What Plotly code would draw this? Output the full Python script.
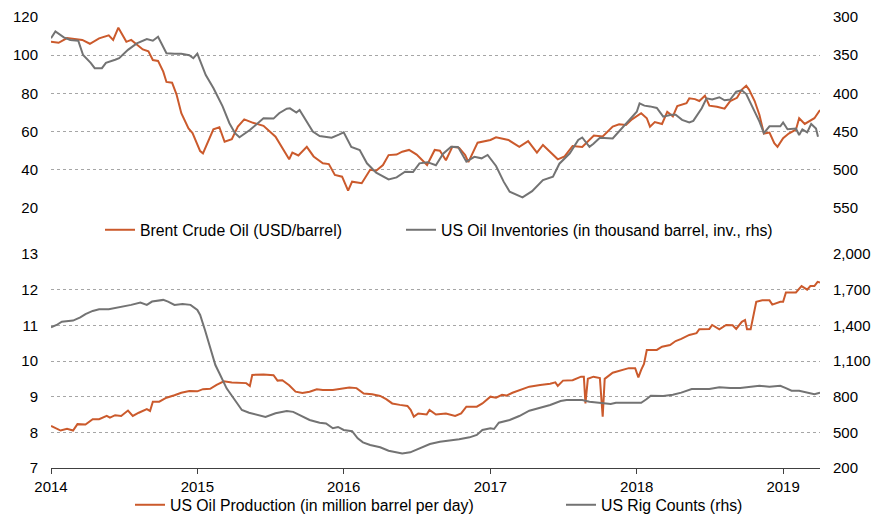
import plotly.graph_objects as go

# ---------------- data ----------------
brent_dates = ['2014-01-01','2014-01-20','2014-02-10','2014-03-01','2014-03-20','2014-04-08','2014-05-01','2014-05-25','2014-06-05','2014-06-18',
'2014-07-08','2014-07-20','2014-08-03','2014-08-18','2014-09-01','2014-09-12','2014-09-25','2014-10-08','2014-10-16','2014-10-30',
'2014-11-10','2014-11-22','2014-12-10','2014-12-20','2015-01-08','2015-01-15','2015-02-10','2015-02-25','2015-03-10','2015-03-28',
'2015-04-12','2015-04-28','2015-05-20','2015-06-15','2015-07-15','2015-08-08','2015-08-18','2015-08-26','2015-09-10','2015-10-01',
'2015-10-18','2015-11-10','2015-11-25','2015-12-10','2015-12-28','2016-01-12','2016-01-22','2016-02-15','2016-03-07','2016-03-22',
'2016-04-08','2016-04-22','2016-05-12','2016-05-26','2016-06-12','2016-07-01','2016-07-15','2016-07-27','2016-08-15','2016-08-28',
'2016-09-12','2016-09-28','2016-10-15','2016-10-30','2016-11-07','2016-11-30','2017-01-01','2017-01-15','2017-02-15','2017-03-14',
'2017-04-05','2017-04-27','2017-05-12','2017-06-06','2017-06-18','2017-07-05','2017-07-25','2017-08-18','2017-09-05','2017-09-16',
'2017-10-08','2017-11-02','2017-11-18','2017-12-05','2017-12-20','2018-01-12','2018-01-26','2018-02-03','2018-02-15','2018-03-05',
'2018-03-18','2018-04-01','2018-04-12','2018-05-05','2018-05-12','2018-05-26','2018-06-06','2018-06-20','2018-07-01','2018-07-20',
'2018-08-08','2018-08-22','2018-09-08','2018-09-20','2018-10-01','2018-10-08','2018-10-22','2018-11-03','2018-11-14','2018-11-28',
'2018-12-10','2018-12-18','2019-01-01','2019-01-15','2019-02-02','2019-02-10','2019-02-24','2019-03-08','2019-03-20','2019-04-03']
brent_values = [107,106.5,109,108.5,108,106,108.8,110.4,108,114.4,
107,108,105.7,103,102,97.5,97,91.4,86,85.6,
79.5,69.6,61.7,59.2,49.8,48.6,61.2,62.3,54.7,56,
62.6,66.4,64.6,63,57.3,48.6,45.5,49,47.5,52,
47,43.4,43,37.3,36.4,29.1,33.8,33,40,39.5,
42.5,47.7,48,49.5,50.4,48,44.8,42.5,50.4,50,
45,52,51.5,47.7,44,54.2,55.6,57,55.6,52,
55,49,53,47.7,45.5,47,52.5,52,55.6,57.9,
57.5,62.6,63.8,63.5,66.4,69.6,67,62.6,65,64,
70.4,68,73.4,74.9,77.4,77,76,78.8,73.6,73,
72,76,77.7,82,84,82,76,68.7,59,59.5,
53.9,52,56.5,59,61,67,64,65.5,67,71.3]

inv_dates = ['2014-01-01','2014-01-12','2014-02-02','2014-02-18','2014-03-10','2014-03-22','2014-04-10','2014-04-20','2014-05-08','2014-05-18',
'2014-06-10','2014-06-20','2014-07-12','2014-08-03','2014-08-28','2014-09-12','2014-09-25','2014-10-16','2014-11-05','2014-11-22',
'2014-12-12','2014-12-22','2015-01-01','2015-01-22','2015-02-10','2015-03-05','2015-03-22','2015-04-05','2015-04-16','2015-05-12',
'2015-06-15','2015-07-10','2015-07-24','2015-08-12','2015-08-20','2015-09-05','2015-09-13','2015-09-28','2015-10-16','2015-11-02',
'2015-12-02','2015-12-20','2016-01-01','2016-01-20','2016-02-10','2016-02-28','2016-03-22','2016-04-22','2016-05-12','2016-06-02',
'2016-06-22','2016-07-08','2016-07-28','2016-08-18','2016-09-05','2016-09-25','2016-10-12','2016-11-02','2016-11-22','2016-12-10',
'2016-12-25','2017-01-15','2017-02-03','2017-02-18','2017-03-22','2017-04-15','2017-05-12','2017-06-06','2017-06-22','2017-07-18',
'2017-08-08','2017-08-18','2017-09-05','2017-09-15','2017-10-01','2017-11-02','2017-11-25','2017-12-15','2018-01-01','2018-01-08',
'2018-01-20','2018-02-03','2018-02-20','2018-03-08','2018-03-28','2018-04-08','2018-04-24','2018-05-12','2018-05-22','2018-06-12',
'2018-06-24','2018-07-08','2018-07-26','2018-08-08','2018-08-22','2018-09-06','2018-09-20','2018-10-01','2018-10-16','2018-11-03',
'2018-11-14','2018-11-28','2018-12-25','2019-01-01','2019-01-12','2019-02-02','2019-02-10','2019-02-18','2019-03-02','2019-03-12',
'2019-03-24','2019-03-29']
inv_values = [327.9,319,326.6,330,331,349.7,360,367,367,360,
356,354,343,334.5,328.8,331,325.8,347.5,348,348,
350,354,348,376,393,417,439,452,457.5,448,
432.6,433,426,420,419.5,425,421.7,434.8,450,455.8,
458,454,451,470,474,491.5,503.8,512.5,510,502.5,
503,491.5,490,494,479,469.7,470,489.4,483,485,
480.6,495,515.5,528.7,536,528,513.4,509,492,478.4,
461,457.7,470,466,458,459,445.7,434.7,424,413,
416,417,419,430.5,428,428,434.6,438,436,419.5,
406.4,408,405,409,408,397.8,396,400.8,417.4,437,
452,443,443,438,447,446,454.5,447,451,440,
446,456.7]

prod_dates = ['2014-01-01','2014-01-25','2014-02-10','2014-02-25','2014-03-08','2014-03-28','2014-04-15','2014-05-01','2014-05-20','2014-05-28',
'2014-06-10','2014-06-25','2014-07-12','2014-07-24','2014-08-08','2014-08-28','2014-09-05','2014-09-12','2014-09-28','2014-10-16',
'2014-11-05','2014-11-22','2014-12-12','2015-01-01','2015-01-15','2015-02-02','2015-02-18','2015-03-08','2015-03-28','2015-05-03',
'2015-05-12','2015-05-18','2015-06-15','2015-07-10','2015-07-20','2015-08-01','2015-08-18','2015-09-03','2015-09-20','2015-10-08',
'2015-10-26','2015-11-10','2015-12-05','2015-12-20','2016-01-15','2016-02-02','2016-02-20','2016-03-12','2016-04-01','2016-04-16',
'2016-05-01','2016-05-20','2016-06-08','2016-06-16','2016-06-24','2016-07-05','2016-07-26','2016-08-02','2016-08-18','2016-09-12',
'2016-10-05','2016-10-20','2016-11-02','2016-11-28','2016-12-12','2017-01-01','2017-01-15','2017-01-30','2017-02-10','2017-02-25',
'2017-03-18','2017-04-08','2017-05-05','2017-05-30','2017-06-12','2017-06-18','2017-07-01','2017-07-25','2017-08-15','2017-08-22',
'2017-08-26','2017-09-01','2017-09-15','2017-10-01','2017-10-08','2017-10-13','2017-11-02','2017-11-25','2017-12-12','2017-12-28',
'2018-01-05','2018-01-12','2018-01-19','2018-01-26','2018-02-20','2018-03-05','2018-03-25','2018-04-08','2018-04-22','2018-05-12',
'2018-05-30','2018-06-06','2018-07-01','2018-07-08','2018-07-26','2018-08-12','2018-08-28','2018-09-06','2018-09-20','2018-09-28',
'2018-10-03','2018-10-12','2018-10-26','2018-11-10','2018-11-28','2018-12-05','2018-12-25','2019-01-01','2019-01-08','2019-02-02',
'2019-02-16','2019-03-02','2019-03-10','2019-03-20','2019-03-28','2019-04-03']
prod_values = [8.18,8.05,8.1,8.05,8.23,8.22,8.37,8.37,8.46,8.41,
8.48,8.46,8.61,8.46,8.55,8.65,8.6,8.86,8.86,8.97,
9.04,9.11,9.16,9.15,9.21,9.22,9.33,9.43,9.4,9.38,
9.3,9.61,9.62,9.6,9.45,9.46,9.32,9.14,9.1,9.14,
9.21,9.19,9.19,9.22,9.26,9.24,9.09,9.07,9.02,8.93,
8.81,8.77,8.74,8.63,8.44,8.53,8.5,8.63,8.5,8.53,
8.46,8.53,8.72,8.72,8.81,9.0,8.97,9.05,9.03,9.11,
9.19,9.28,9.33,9.36,9.4,9.3,9.45,9.46,9.56,9.56,
8.81,9.5,9.56,9.52,8.44,9.5,9.67,9.74,9.8,9.8,
9.54,9.75,9.92,10.31,10.31,10.4,10.45,10.56,10.62,10.73,
10.78,10.89,10.9,11.01,10.89,11.01,11.0,10.9,11.1,11.15,
10.89,10.89,11.66,11.7,11.7,11.58,11.66,11.66,11.92,11.92,
12.1,12.0,12.1,12.1,12.22,12.2]

rig_dates = ['2014-01-01','2014-01-15','2014-01-28','2014-02-25','2014-03-15','2014-03-28','2014-04-15','2014-05-01','2014-05-25','2014-06-12',
'2014-06-28','2014-07-20','2014-08-12','2014-08-28','2014-09-10','2014-09-28','2014-10-08','2014-10-20','2014-11-05','2014-11-25',
'2014-12-15','2015-01-01','2015-01-08','2015-01-20','2015-02-03','2015-02-15','2015-02-25','2015-03-15','2015-03-25','2015-04-08',
'2015-04-22','2015-05-10','2015-06-05','2015-06-20','2015-07-15','2015-08-12','2015-08-28','2015-09-12','2015-10-08','2015-11-02',
'2015-11-18','2015-12-05','2015-12-18','2016-01-01','2016-01-22','2016-02-05','2016-02-18','2016-03-07','2016-04-01','2016-04-22',
'2016-05-12','2016-05-26','2016-06-15','2016-07-08','2016-08-03','2016-08-28','2016-09-20','2016-10-15','2016-11-10','2016-11-28',
'2016-12-12','2017-01-01','2017-01-10','2017-01-22','2017-02-18','2017-03-14','2017-04-08','2017-05-05','2017-05-30','2017-06-25',
'2017-07-10','2017-08-05','2017-08-18','2017-09-05','2017-10-01','2017-10-28','2017-11-10','2017-12-05','2018-01-01','2018-01-12',
'2018-01-25','2018-02-05','2018-03-08','2018-04-01','2018-04-22','2018-05-18','2018-06-06','2018-07-01','2018-07-26','2018-08-22',
'2018-09-16','2018-10-08','2018-11-03','2018-11-28','2018-12-25','2019-01-08','2019-01-22','2019-02-10','2019-03-06','2019-03-20',
'2019-04-03']
rig_values = [1383,1403,1431,1440,1467,1495,1521,1535,1535,1545,
1557,1572,1591,1572,1600,1608,1614,1600,1572,1580,
1572,1529,1487,1361,1193,1066,997,870,822,758,
688,665,646,629,660,679,672,646,604,581,
575,534,545,520,510,450,416,393,374,345,
329,323,332,366,402,421,430,441,458,478,
520,534,528,581,604,637,682,710,730,764,
772,772,772,758,749,738,749,749,749,749,
778,808,805,816,834,864,864,864,879,872,
872,884,892,884,892,872,850,850,828,820,
834]

series_names = ['Brent Crude Oil (USD/barrel)',
                'US Oil Inventories (in thousand barrel, inv., rhs)',
                'US Oil Production (in million barrel per day)',
                'US Rig Counts (rhs)']

x_range = ['2014-01-01', '2019-04-03']

# ---------------- styles ----------------
ORANGE = '#CB5A2C'
GREY = '#737373'
FONT = 'Liberation Sans, Arial, sans-serif'
GRID = '#A6A6A6'
AXIS = '#404040'

W, H = 875, 517
ML, MR = 51, 55
PW = W - ML - MR
PH = H

def px_x(p):
    return (p - ML) / PW

def px_y(p):
    return (H - p) / PH

fig = go.Figure()
fig.add_trace(go.Scatter(x=brent_dates, y=brent_values, name=series_names[0], mode='lines',
                         line=dict(color=ORANGE, width=2), xaxis='x', yaxis='y', legend='legend'))
fig.add_trace(go.Scatter(x=inv_dates, y=inv_values, name=series_names[1], mode='lines',
                         line=dict(color=GREY, width=2), xaxis='x', yaxis='y2', legend='legend2'))
fig.add_trace(go.Scatter(x=prod_dates, y=prod_values, name=series_names[2], mode='lines',
                         line=dict(color=ORANGE, width=2), xaxis='x2', yaxis='y3', legend='legend3'))
fig.add_trace(go.Scatter(x=rig_dates, y=rig_values, name=series_names[3], mode='lines',
                         line=dict(color=GREY, width=2), xaxis='x2', yaxis='y4', legend='legend4'))

top_dom = [px_y(208), px_y(17)]
bot_dom = [px_y(468), px_y(254)]

tickfont = dict(family=FONT, size=15, color='#000000')
legfont = dict(family=FONT, size=15.8, color='#000000')

common_y = dict(showgrid=True, gridcolor=GRID, gridwidth=1, griddash='dot', zeroline=False,
                showline=False, ticks='', tickfont=tickfont, ticklabelstandoff=12, automargin=False)

def leg(xp, yp):
    return dict(x=px_x(xp), y=px_y(yp), xanchor='left', yanchor='middle', font=legfont,
                bgcolor='rgba(0,0,0,0)', borderwidth=0, visible=True)

fig.update_layout(
    width=W, height=H,
    margin=dict(l=ML, r=MR, t=0, b=0, autoexpand=False),
    paper_bgcolor='white', plot_bgcolor='rgba(0,0,0,0)',
    showlegend=True,
    font=dict(family=FONT, size=15, color='#000000'),
    xaxis=dict(domain=[0, 1], anchor='y', range=x_range, type='date', showticklabels=False,
               showgrid=False, zeroline=False, showline=False, ticks='', automargin=False),
    yaxis=dict(domain=top_dom, anchor='x', range=[20, 120], dtick=20, tick0=20, **common_y),
    yaxis2=dict(overlaying='y', anchor='x', side='right', range=[550, 300], dtick=50,
                showgrid=False, zeroline=False, showline=False, ticks='', tickfont=tickfont,
                ticklabelstandoff=12, automargin=False),
    xaxis2=dict(domain=[0, 1], anchor='y3', range=x_range, type='date', dtick='M12',
                tick0='2014-01-01', tickformat='%Y', showgrid=False, zeroline=False,
                showline=True, linecolor=AXIS, linewidth=1, ticks='outside', ticklen=5,
                tickcolor=AXIS, tickfont=tickfont, automargin=False),
    yaxis3=dict(domain=bot_dom, anchor='x2', range=[7, 13], dtick=1, tick0=7, **common_y),
    yaxis4=dict(overlaying='y3', anchor='x2', side='right', range=[200, 2000], dtick=300,
                tick0=200, tickformat=',', showgrid=False, zeroline=False, showline=False,
                ticks='', tickfont=tickfont, ticklabelstandoff=12, automargin=False),
    legend=leg(100, 230),
    legend2=leg(401, 230),
    legend3=leg(130, 505),
    legend4=leg(561, 505),
)

fig.write_html('out.html', config={'displayModeBar': False},
               post_script="document.body.style.margin='0px';")
